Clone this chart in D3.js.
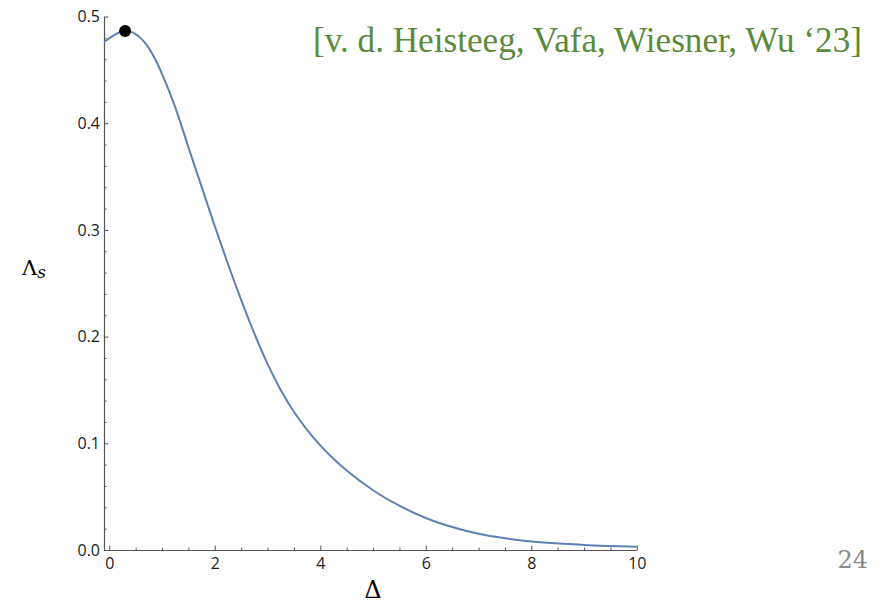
<!DOCTYPE html>
<html>
<head>
<meta charset="utf-8">
<script src="https://cdn.jsdelivr.net/npm/d3@7"></script>
<style>
  body { margin: 0; background: white; }
  svg { display: block; }
</style>
</head>
<body>
<div id="output"></div>
<script>
const width = 884;
const height = 603;

// curve Lambda_s(Delta)
const deltaValues = [-0.1, 0, 0.1, 0.2, 0.3, 0.4, 0.5, 0.6, 0.7, 0.8, 0.9, 1.0, 1.25, 1.5, 1.75,
    2.0, 2.25, 2.5, 2.75, 3.0, 3.25, 3.5, 3.75, 4.0, 4.25, 4.5, 5.0, 5.5, 6.0, 6.5, 7.0, 7.5, 8.0, 9.0, 10.0];
const lambdaValues = [0.4762, 0.4795, 0.4827, 0.4852, 0.4864, 0.4858, 0.4835, 0.4795, 0.4738, 0.4663,
    0.4571, 0.4462, 0.415, 0.3775, 0.3405, 0.3035, 0.268, 0.2345, 0.203, 0.1745, 0.150, 0.1295,
    0.1125, 0.098, 0.0855, 0.0745, 0.056, 0.0415, 0.030, 0.0215, 0.0152, 0.011, 0.008, 0.0048, 0.0031];
// marked maximum
const peak = {delta: 0.3, lambda: 0.4864};

const xMajorTicks = [0, 2, 4, 6, 8, 10];
const xMinorTicks = [0.5, 1, 1.5, 2.5, 3, 3.5, 4.5, 5, 5.5, 6.5, 7, 7.5, 8.5, 9, 9.5];
const yMajorTicks = [0.0, 0.1, 0.2, 0.3, 0.4, 0.5];
const yMinorTicks = [0.02, 0.04, 0.06, 0.08, 0.12, 0.14, 0.16, 0.18, 0.22, 0.24, 0.26, 0.28,
    0.32, 0.34, 0.36, 0.38, 0.42, 0.44, 0.46, 0.48];

const citation = '[v. d. Heisteeg, Vafa, Wiesner, Wu \u201823]';
const pageNumber = '24';

let svg = d3.select('#output').append('svg')
    .attr('width', width)
    .attr('height', height);

let x = d3.scaleLinear().domain([-0.1, 10]).range([104, 636.8]);
let y = d3.scaleLinear().domain([0, 0.5]).range([550, 16.5]);

const axisColor = '#555';
const labelFont = '"Open Sans", "Noto Sans", sans-serif';

// x axis: minor ticks first, then major ticks with labels
svg.append('g')
    .attr('transform', 'translate(0,' + y(0) + ')')
    .call(d3.axisBottom(x).tickValues(xMinorTicks).tickSize(-2.5).tickSizeOuter(0).tickFormat(''))
    .call(g => g.select('.domain').remove())
    .selectAll('line').attr('stroke', axisColor);

let xAxis = svg.append('g')
    .attr('transform', 'translate(0,' + y(0) + ')')
    .call(d3.axisBottom(x).tickValues(xMajorTicks).tickSize(-4.5).tickSizeOuter(0).tickPadding(8)
        .tickFormat(d3.format('d')));
xAxis.select('.domain').attr('stroke', axisColor).attr('stroke-width', 1.2);
xAxis.selectAll('line').attr('stroke', axisColor);
xAxis.selectAll('text')
    .attr('font-family', labelFont)
    .attr('font-size', 16)
    .attr('fill', '#1a1a1a');

// y axis
svg.append('g')
    .attr('transform', 'translate(' + x(-0.1) + ',0)')
    .call(d3.axisLeft(y).tickValues(yMinorTicks).tickSize(-2.5).tickSizeOuter(0).tickFormat(''))
    .call(g => g.select('.domain').remove())
    .selectAll('line').attr('stroke', axisColor);

let yAxis = svg.append('g')
    .attr('transform', 'translate(' + x(-0.1) + ',0)')
    .call(d3.axisLeft(y).tickValues(yMajorTicks).tickSize(-4.5).tickSizeOuter(0).tickPadding(4)
        .tickFormat(d3.format('.1f')));
yAxis.select('.domain').attr('stroke', axisColor).attr('stroke-width', 1.2);
yAxis.selectAll('line').attr('stroke', axisColor);
yAxis.selectAll('text')
    .attr('font-family', labelFont)
    .attr('font-size', 16)
    .attr('fill', '#1a1a1a');

// the curve
let points = deltaValues.map((d, i) => ({delta: d, lambda: lambdaValues[i]}));
let line = d3.line()
    .x(d => x(d.delta))
    .y(d => y(d.lambda))
    .curve(d3.curveMonotoneX);
svg.append('path')
    .datum(points)
    .attr('d', line)
    .attr('fill', 'none')
    .attr('stroke', '#5e81b5')
    .attr('stroke-width', 2);

svg.append('circle')
    .attr('cx', x(peak.delta))
    .attr('cy', y(peak.lambda))
    .attr('r', 6)
    .attr('fill', 'black');

// axis labels
let yLabel = svg.append('text')
    .attr('x', 22)
    .attr('y', 275)
    .attr('font-family', '"DejaVu Serif", serif')
    .attr('font-size', 21)
    .attr('fill', 'black');
yLabel.append('tspan').text('\u039B');
yLabel.append('tspan')
    .attr('dy', 3)
    .attr('font-size', 17)
    .attr('font-style', 'italic')
    .text('s');

svg.append('text')
    .attr('x', 373)
    .attr('y', 598)
    .attr('text-anchor', 'middle')
    .attr('font-family', '"DejaVu Serif", serif')
    .attr('font-size', 24)
    .attr('fill', 'black')
    .text('\u0394');

// citation and page number
svg.append('text')
    .attr('x', 313)
    .attr('y', 52)
    .attr('font-family', '"Liberation Serif", "DejaVu Serif", serif')
    .attr('font-size', 35)
    .attr('fill', '#5b8a3c')
    .attr('textLength', 549)
    .attr('lengthAdjust', 'spacingAndGlyphs')
    .text(citation);

svg.append('text')
    .attr('x', 868)
    .attr('y', 568)
    .attr('text-anchor', 'end')
    .attr('font-family', '"DejaVu Serif", serif')
    .attr('font-size', 24)
    .attr('fill', '#8a8a8a')
    .text(pageNumber);
</script>
</body>
</html>
